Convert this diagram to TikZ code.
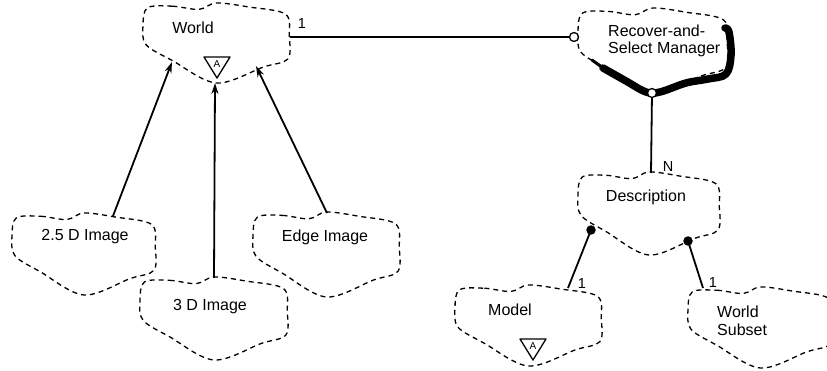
\documentclass[tikz,border=0pt]{standalone}
\usepackage{fontspec}
\setmainfont{Liberation Sans}
\usetikzlibrary{arrows.meta}
\tikzset{
  cloudline/.style={dash pattern=on 5pt off 4pt, line width=1.3pt},
  lbl/.style={font=\fontsize{16}{17}\selectfont, inner sep=0pt},
  mult/.style={font=\fontsize{14.5}{15}\selectfont, inner sep=0pt},
  assoc/.style={line width=1.8pt},
  inh/.style={line width=1.8pt, -{Stealth[length=11pt,width=7pt]}},
  opendot/.style={circle, draw, fill=white, line width=1.3pt, minimum size=9pt, inner sep=0pt},
  fulldot/.style={circle, fill=black, minimum size=9.5pt, inner sep=0pt},
  abstract/.pic={
    \draw[line width=1.3pt, line join=round] (-13,-10) -- (13,-10) -- (0,11) -- cycle;
    \node[font=\fontsize{10}{10}\selectfont, inner sep=0pt] at (0,-3) {A};
  }
}
\newcommand\bcloud[4]{% x, y, w, h (top-left corner, pixel units)
  \begin{scope}[shift={(#1,#2)}, x=#3pt, y=-#4pt]
    \draw[cloudline] plot[smooth cycle, tension=0.55] coordinates {
      (0.03,0.06) (0.20,0.04) (0.38,0.08) (0.50,0.0) (0.72,0.05) (0.97,0.14)
      (0.995,0.42) (0.985,0.70) (0.82,0.80) (0.50,1.0) (0.20,0.72) (0.02,0.52) (0.0,0.28)};
  \end{scope}}
\begin{document}
\begin{tikzpicture}[x=1pt, y=-1pt]
  \clip (0,0) rectangle (827,371);
  \fill[white] (0,0) rectangle (827,371);

  % clouds
  \bcloud{143}{3}{147}{80}    % World
  \bcloud{578}{8}{150}{85}    % Recover-and-Select Manager
  \bcloud{12}{213}{144}{82}   % 2.5 D Image
  \bcloud{140}{277}{148}{83}  % 3 D Image
  \bcloud{253}{212}{147}{85}  % Edge Image
  \bcloud{578}{172}{142}{83}  % Description
  \bcloud{455}{285}{147}{81}  % Model
  \bcloud{688}{287}{145}{81}  % World Subset

  % shadow of the Recover-and-Select Manager
  \draw[line width=7.5pt, line cap=round, line join=round]
    plot[smooth, tension=0.6] coordinates {(603,68) (626,81) (646,92) (660,92) (686,83) (708,79) (726,74) (731,55) (729,32) (725,28)};
  \draw[line width=3pt, line cap=round]
    plot[smooth, tension=0.6] coordinates {(592,60) (603,68)};

  % texts
  \node[lbl] (world) at (193,28) {World};
  \node[lbl, align=left, anchor=west] (rsm) at (608,40.5) {Recover-and-\\Select Manager};
  \node[lbl] (img25) at (85,237) {2.5 D Image};
  \node[lbl] (img3) at (210,307) {3 D Image};
  \node[lbl] (edge) at (325,237) {Edge Image};
  \node[lbl] (desc) at (646,197) {Description};
  \node[lbl] (model) at (510,310) {Model};
  \node[lbl, align=left, anchor=west, font=\fontsize{16}{18}\selectfont] (wsub) at (717,321) {World\\Subset};

  % abstract adornments
  \pic at (217,67) {abstract};
  \pic at (533,349) {abstract};

  % attachment points
  \coordinate (world-r) at (290,37);
  \coordinate (world-bl) at (172,62);
  \coordinate (world-b) at (215,83);
  \coordinate (world-br) at (256,66);
  \coordinate (img25-t) at (113,216);
  \coordinate (img3-t) at (214,278);
  \coordinate (edge-t) at (327,213);
  \coordinate (desc-t) at (651,173);
  \coordinate (model-t) at (568,288);
  \coordinate (wsub-t) at (703,288);

  \node[opendot] (rsm-l) at (574,37) {};
  \node[opendot] (rsm-b) at (652,93) {};
  \node[fulldot] (desc-l) at (591,230) {};
  \node[fulldot] (desc-r) at (688,241) {};

  % associations
  \draw[assoc] (world-r) -- (rsm-l);
  \draw[assoc] (rsm-b) -- (desc-t);
  \draw[assoc] (desc-l.center) -- (model-t);
  \draw[assoc] (desc-r.center) -- (wsub-t);

  % inheritance
  \draw[inh] (img25-t) -- (world-bl);
  \draw[inh] (img3-t) -- (world-b);
  \draw[inh] (edge-t) -- (world-br);

  % multiplicities
  \node[mult] (m1) at (302,24) {1};
  \node[mult] (mN) at (668,167) {N};
  \node[mult] (m2) at (582,284) {1};
  \node[mult] (m3) at (713,283) {1};
\end{tikzpicture}
\end{document}
